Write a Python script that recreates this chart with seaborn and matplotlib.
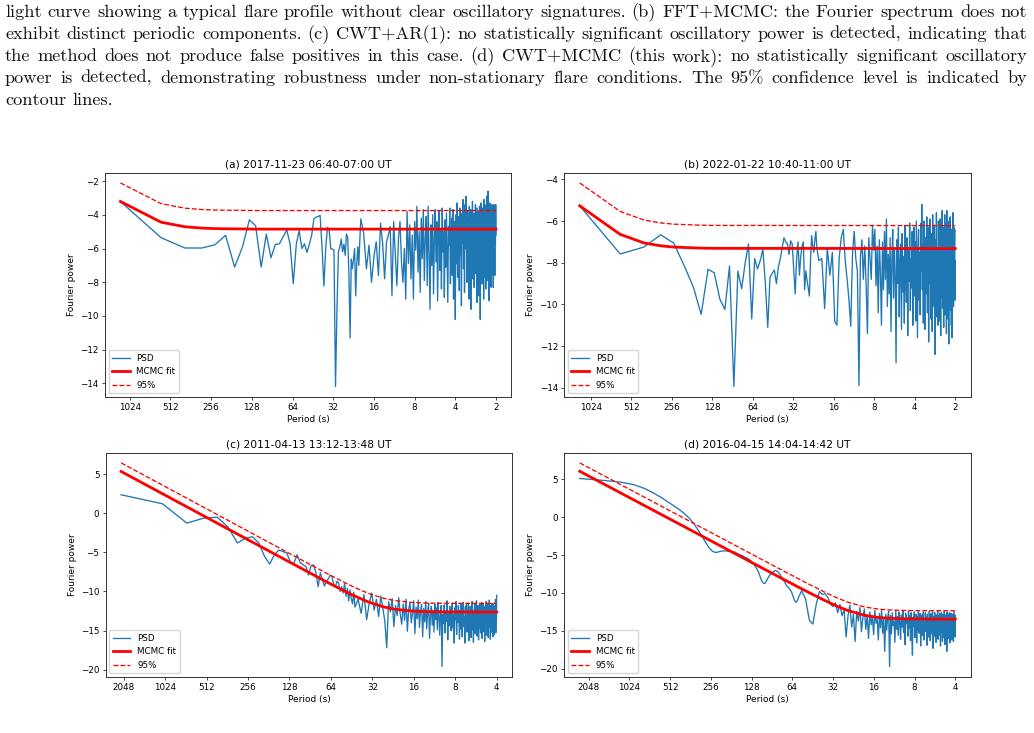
import numpy as np
import matplotlib
matplotlib.use("Agg")
import matplotlib.pyplot as plt
from matplotlib.ticker import NullLocator
import seaborn as sns

# caption text above the figure (page screenshot)
caption_lines = [
    "light curve showing a typical flare profile without clear oscillatory signatures. (b) FFT+MCMC: the Fourier spectrum does not",
    "exhibit distinct periodic components. (c) CWT+AR(1): no statistically significant oscillatory power is detected, indicating that",
    "the method does not produce false positives in this case. (d) CWT+MCMC (this work): no statistically significant oscillatory",
    "power is detected, demonstrating robustness under non-stationary flare conditions. The 95% confidence level is indicated by",
    "contour lines.",
]

titles = ["(a) 2017-11-23 06:40-07:00 UT", "(b) 2022-01-22 10:40-11:00 UT",
          "(c) 2011-04-13 13:12-13:48 UT", "(d) 2016-04-15 14:04-14:42 UT"]
durations = [1200, 1240, 2140, 2385]      # s, length of each light curve
top_harmonic = [600, 620, 535, 596]       # Nyquist harmonic
lo_step = [1, 1, 1, 0.5]                  # harmonic spacing of the low-frequency part
period_ticks_ab = [1024, 512, 256, 128, 64, 32, 16, 8, 4, 2]
period_ticks_cd = [2048, 1024, 512, 256, 128, 64, 32, 16, 8, 4]

# ---- (a) log PSD
psd_a_lo = [-3.21, -5.36, -5.97, -5.97, -5.78, -5.22, -7.10, -5.90, -4.30, -4.65,
            -7.10, -5.15, -6.55, -5.76, -5.72, -5.30, -4.90, -5.74, -8.08, -5.74,
            -4.94, -6.00, -5.72, -6.23, -5.74, -5.20, -4.24, -4.14, -4.10, -4.04,
            -5.90, -8.22, -6.00, -4.74, -4.90, -6.03, -6.03, -6.10, -14.18, -9.50,
            -6.20, -5.90, -5.44, -6.20, -5.74, -6.40, -5.14, -5.34, -7.50, -11.30,
            -6.63, -7.20, -6.63, -6.00, -8.81, -6.90, -5.90, -7.00, -5.50, -4.24]
psd_a_hi = [-5.1, -7.2, -5.8, -8.0, -6.5, -5.6, -7.6, -4.5, -5.7, -7.8,
            -5.6, -5.2, -4.7, -8.8, -4.4, -6.4, -8.2, -5.4, -4.4, -6.8,
            -8.0, -6.0, -9.0, -3.8, -6.9, -4.6, -7.8, -5.2, -9.0, -4.4,
            -6.1, -3.5, -7.4, -5.0, -8.6, -4.2, -6.6, -3.7, -7.9, -5.3,
            -4.1, -8.2, -3.5, -6.3, -9.6, -4.6, -7.0, -4.0, -8.7, -5.5,
            -3.7, -6.8, -4.4, -9.1, -5.1, -3.8, -7.3, -4.9, -8.4, -3.6,
            -6.2, -5.0, -8.9, -4.3, -7.1, -3.9, -6.5, -9.2, -4.7, -5.8,
            -3.6, -8.1, -5.3, -4.2, -7.6, -3.7, -9.0, -5.6, -4.4, -10.2,
            -4.0, -6.9, -3.3, -7.7, -5.2, -4.1, -8.5, -3.6, -6.4, -4.8,
            -9.4, -3.9, -5.7, -3.1, -7.2, -4.5, -8.6, -3.4, -6.0, -2.9,
            -5.5, -8.0, -3.8, -6.7, -4.2, -9.0, -3.5, -7.1, -4.9, -3.7,
            -9.6, -4.4, -6.3, -3.2, -7.8, -5.0, -3.9, -8.3, -4.6, -6.9,
            -3.4, -7.5, -4.8, -3.6, -9.2, -5.4, -3.8, -6.6, -4.1, -8.8,
            -3.5, -5.9, -10.2, -4.3, -3.3, -7.0, -4.7, -8.1, -3.6, -6.2,
            -4.0, -9.0, -3.1, -5.6, -7.7, -3.9, -4.9, -8.4, -3.4, -6.8,
            -2.9, -5.3, -7.9, -4.2, -2.6, -6.5, -3.8, -9.1, -4.4, -3.3,
            -7.2, -5.0, -3.5, -8.3, -4.1, -6.0, -3.4, -7.5, -4.6, -3.7,
            -8.3, -5.2, -3.4, -6.6, -4.0, -7.6, -3.5, -5.8, -3.4, -5.2]

# ---- (b) log PSD
psd_b_lo = [-5.27, -7.58, -7.25, -6.66, -7.06, -8.16, -9.17, -10.48, -8.32, -8.48,
            -9.73, -10.24, -8.16, -13.94, -8.40, -9.25, -8.00, -7.10, -10.70, -7.80,
            -8.30, -7.90, -7.35, -9.00, -11.10, -8.70, -8.50, -8.35, -9.00, -8.20,
            -7.80, -7.30, -6.80, -7.00, -7.10, -7.60, -6.95, -7.10, -8.30, -9.50,
            -7.80, -7.00, -8.60, -7.70, -7.20, -7.00, -9.30, -8.40, -8.85, -9.20,
            -9.60, -7.90, -6.70, -7.20, -7.50, -6.90, -6.50, -7.30, -7.60, -7.90]
psd_b_hi = [-7.8, -10.2, -7.3, -8.6, -7.5, -10.8, -11.0, -7.8, -6.8, -6.4,
            -7.9, -8.8, -9.8, -11.05, -7.6, -6.5, -7.8, -8.4, -13.9, -7.7,
            -6.9, -8.8, -7.2, -9.0, -11.4, -6.8, -7.8, -8.8, -6.2, -7.4,
            -6.4, -9.1, -7.2, -10.4, -6.9, -8.5, -11.0, -7.0, -9.3, -6.5,
            -8.8, -5.9, -10.1, -7.6, -9.5, -6.8, -11.3, -7.9, -6.4, -9.7,
            -7.3, -8.6, -12.8, -6.9, -9.0, -6.3, -10.6, -8.0, -7.1, -11.2,
            -6.6, -9.4, -7.7, -10.9, -6.2, -8.3, -9.9, -6.8, -11.5, -7.4,
            -8.9, -6.1, -10.3, -7.8, -9.2, -6.5, -11.0, -8.1, -6.3, -9.6,
            -7.0, -10.8, -6.0, -8.7, -11.6, -7.2, -6.4, -9.8, -7.5, -10.5,
            -6.1, -8.4, -5.2, -9.3, -7.1, -10.9, -6.0, -8.0, -11.2, -6.8,
            -9.5, -7.3, -5.8, -10.4, -8.2, -6.3, -11.8, -7.6, -9.0, -5.9,
            -8.6, -10.7, -6.6, -7.9, -11.3, -5.7, -9.2, -7.0, -10.1, -6.2,
            -8.8, -12.4, -6.9, -9.6, -5.6, -10.6, -7.4, -8.3, -11.0, -6.0,
            -9.1, -7.2, -10.8, -5.9, -8.5, -11.5, -6.4, -9.7, -7.1, -5.5,
            -10.2, -8.0, -6.3, -11.1, -7.6, -9.3, -5.7, -10.5, -6.9, -8.8,
            -6.1, -11.4, -5.5, -9.0, -7.3, -10.7, -6.5, -8.2, -11.9, -6.0,
            -9.4, -7.0, -5.8, -10.3, -8.5, -6.4, -11.0, -7.7, -11.6, -6.6,
            -9.0, -5.6, -8.1, -10.1, -6.3, -9.4, -7.2, -6.4, -9.8, -7.9]

# ---- (c) log PSD
psd_c_lo = [2.36, 1.21, -1.26, -0.62, -0.50, -1.80, -3.80, -3.20, -3.00, -3.80,
            -5.50, -6.50, -5.30, -4.70, -4.90, -5.10, -6.30, -6.40, -5.30, -6.30,
            -6.60, -6.80, -7.90, -6.70, -6.60, -7.60, -9.40, -7.60, -8.50, -9.30,
            -8.70, -8.40, -7.90, -8.10, -9.10, -9.40, -8.70, -8.90, -10.00, -9.40,
            -10.20, -9.00, -10.60, -9.60, -11.20, -9.80, -10.90, -11.60, -10.10, -12.00]
psd_c_hi = [-11.0, -12.8, -10.4, -13.6, -11.5, -10.2, -12.4, -11.0, -13.2, -10.6, -12.1,
            -13.8, -17.2, -11.3, -12.6, -10.9, -14.5, -11.8, -13.1, -10.8, -12.9,
            -14.2, -11.6, -13.7, -11.0, -15.1, -12.3, -11.4, -14.0, -12.8, -11.2,
            -15.4, -12.0, -13.5, -11.1, -14.6, -12.5, -11.7, -15.8, -12.2, -13.9,
            -11.3, -14.8, -12.7, -11.5, -16.0, -13.0, -11.9, -14.3, -12.4, -15.2,
            -11.6, -13.6, -12.1, -14.9, -11.4, -13.3, -15.6, -12.6, -11.8, -19.6,
            -12.9, -14.1, -11.7, -15.3, -12.5, -13.8, -11.2, -16.2, -12.8, -14.4,
            -11.9, -13.2, -15.0, -12.3, -11.5, -14.7, -13.0, -16.6, -12.1, -13.6,
            -11.3, -15.5, -12.7, -14.0, -11.8, -13.4, -16.1, -12.4, -14.8, -11.6,
            -13.1, -15.8, -12.2, -11.4, -14.5, -13.3, -16.6, -12.0, -14.2, -11.7,
            -15.2, -12.9, -13.7, -11.5, -16.3, -12.6, -14.6, -11.9, -13.5, -15.9,
            -12.3, -11.3, -14.9, -13.0, -16.5, -12.4, -13.8, -11.6, -15.4, -12.8,
            -14.1, -11.2, -15.7, -12.7, -13.6, -11.8, -16.2, -13.1, -12.0, -14.7,
            -11.5, -15.3, -12.5, -13.9, -11.4, -16.0, -12.9, -14.4, -11.7, -15.1,
            -12.2, -13.5, -16.4, -11.9, -14.2, -12.6, -11.3, -15.6, -13.2, -12.0,
            -14.8, -11.6, -15.9, -12.8, -13.7, -11.1, -14.5, -12.3, -16.1, -11.8,
            -13.4, -15.2, -12.1, -11.5, -14.6, -12.9, -15.8, -11.7, -13.6, -12.4,
            -15.5, -11.9, -14.1, -12.7, -11.0, -15.3, -12.2, -13.9, -10.5]

# ---- (d) log PSD (low part sampled every half harmonic)
psd_d_lo = [5.10, 4.85, 4.62, 4.30, 3.80, 3.20, 2.60, 2.00, 1.45, 0.95,
            0.40, -0.20, -0.90, -1.70, -2.50, -3.30, -4.00, -4.45, -4.65, -4.60,
            -4.50, -4.45, -4.45, -4.50, -4.50, -4.55, -4.60, -4.75, -4.90, -5.00,
            -5.10, -5.25, -5.35, -5.45, -5.60, -5.80, -6.00, -6.30, -6.60, -6.90,
            -7.30, -7.80, -8.30, -8.60, -8.75, -8.70, -8.40, -8.10, -7.80, -7.60,
            -7.45, -7.30, -7.20, -7.10, -7.05, -7.10, -7.20, -7.30, -7.50, -7.70,
            -7.90, -8.10, -8.30, -8.50, -8.70, -8.90, -9.10, -9.20, -9.30, -9.50,
            -9.60, -9.80, -10.00, -10.30, -10.60, -10.90, -11.10, -11.20, -11.20, -11.00]
psd_d_hi = [-9.7, -10.8, -13.6, -14.1, -11.5, -9.8, -10.2, -10.1, -10.6, -11.5,
            -11.8, -11.3, -12.6, -11.5, -13.0,
            -12.2, -15.8, -13.0, -11.6, -14.5, -12.8, -16.4, -12.4, -13.7, -11.9,
            -15.1, -13.2, -12.1, -14.8, -12.9, -16.0, -12.5, -14.2, -13.1, -15.5,
            -12.3, -14.0, -13.4, -16.2, -12.7, -14.6, -12.2, -15.3, -13.5, -17.7,
            -12.8, -14.9, -13.2, -12.4, -19.7,
            -13.0, -15.4, -12.6, -14.3, -13.7, -16.5, -12.3, -14.8, -13.1, -15.6,
            -12.5, -13.9, -16.1, -12.9, -14.5, -12.3, -15.2, -13.6, -16.8, -12.7,
            -14.0, -13.3, -15.7, -12.4, -14.6, -13.0, -16.3, -12.6, -15.0, -18.2,
            -13.2, -14.4, -12.5, -15.9, -13.7, -12.8, -16.6, -13.1, -14.9, -12.4,
            -15.3, -13.5, -12.7, -17.0, -14.1, -12.9, -15.6, -13.3, -12.5, -16.2,
            -13.8, -14.7, -12.6, -15.1, -13.2, -16.9, -12.8, -14.3, -13.6, -15.8,
            -12.4, -14.0, -16.3, -13.0, -12.7, -15.4, -13.9, -12.5, -17.3, -14.2,
            -13.1, -15.7, -12.6, -14.6, -13.4, -16.5, -12.9, -15.0, -13.7, -12.3,
            -16.1, -14.1, -13.0, -15.5, -12.7, -14.8, -17.0, -13.3, -12.6, -15.2,
            -13.8, -16.4, -12.8, -14.5, -13.1, -15.9, -12.4, -14.0, -16.8, -13.5,
            -12.9, -15.3, -13.6, -17.7, -12.5, -14.7, -13.2, -16.0, -12.8, -15.1,
            -13.9, -12.6, -16.6, -14.2, -13.0, -15.6, -12.7, -14.4, -16.2, -13.3,
            -12.8, -15.0, -13.7, -16.4, -12.5, -14.9, -13.4, -15.7, -12.9, -15.8]

# ---- MCMC fit and 95% level, given at selected harmonics
fit_a_k = [1, 2, 3, 4, 5, 6, 8, 10, 600]
fit_a = [-3.21, -4.44, -4.71, -4.79, -4.82, -4.83, -4.84, -4.85, -4.85]
conf_a = [-2.11, -3.34, -3.61, -3.69, -3.72, -3.73, -3.74, -3.75, -3.75]

fit_b_k = [1, 2, 3, 4, 5, 6, 8, 10, 620]
fit_b = [-5.27, -6.64, -7.05, -7.19, -7.25, -7.27, -7.30, -7.31, -7.32]
conf_b = [-4.17, -5.54, -5.95, -6.09, -6.15, -6.17, -6.20, -6.21, -6.22]

fit_c_k = [1, 2, 4, 8, 16, 24, 32, 40, 48, 56, 64, 80, 96, 128, 160, 192, 256, 535]
fit_c = [5.34, 2.49, -0.36, -3.21, -6.06, -7.72, -8.89, -9.77, -10.46, -10.99,
         -11.41, -11.96, -12.26, -12.50, -12.58, -12.60, -12.62, -12.63]
conf_c = [6.44, 3.59, 0.74, -2.11, -4.96, -6.62, -7.79, -8.67, -9.36, -9.89,
          -10.31, -10.86, -11.16, -11.40, -11.48, -11.50, -11.52, -11.53]

fit_d_k = [1, 2, 4, 8, 16, 24, 32, 48, 64, 80, 96, 128, 160, 192, 256, 384, 596]
fit_d = [6.06, 3.21, 0.36, -2.49, -5.34, -7.01, -8.19, -9.83, -10.95, -11.76,
         -12.32, -12.95, -13.22, -13.34, -13.41, -13.44, -13.45]
conf_d = [7.16, 4.31, 1.46, -1.39, -4.24, -5.91, -7.09, -8.73, -9.85, -10.66,
          -11.22, -11.85, -12.12, -12.24, -12.31, -12.34, -12.35]

psd_lo = [psd_a_lo, psd_b_lo, psd_c_lo, psd_d_lo]
psd_hi = [psd_a_hi, psd_b_hi, psd_c_hi, psd_d_hi]
fit_k = [fit_a_k, fit_b_k, fit_c_k, fit_d_k]
fits = [fit_a, fit_b, fit_c, fit_d]
confs = [conf_a, conf_b, conf_c, conf_d]


def harmonics(n_lo, step, k_top, n_hi):
    k_lo = 1 + step * np.arange(n_lo)
    k_hi = np.linspace(k_lo[-1], k_top, n_hi + 1)[1:]
    return np.r_[k_lo, k_hi]


W, H = 1034, 733
fig = plt.figure(figsize=(W / 100, H / 100), dpi=100)

# axes boxes in pixels: left, top
boxes = [(105, 172.7), (564.3, 172.7), (105.7, 452.7), (564.3, 452.7)]
ax_w, ax_h = 406.4, 224

for i in range(4):
    left, top = boxes[i]
    ax = fig.add_axes([left / W, (H - top - ax_h) / H, ax_w / W, ax_h / H])
    T = durations[i]
    k = harmonics(len(psd_lo[i]), lo_step[i], top_harmonic[i], len(psd_hi[i]))
    freq = k / T
    psd = np.r_[psd_lo[i], psd_hi[i]]
    fk = np.array(fit_k[i]) / T

    sns.lineplot(x=freq, y=psd, ax=ax, color="#1f77b4", lw=0.95,
                 label="PSD", estimator=None)
    sns.lineplot(x=fk, y=fits[i], ax=ax, color="red", lw=2.0,
                 label="MCMC fit", estimator=None)
    sns.lineplot(x=fk, y=confs[i], ax=ax, color="red", lw=0.95, ls="--",
                 label="95%", estimator=None)

    ax.set_xscale("log")
    ax.margins(x=0.041, y=0.05)
    ticks = period_ticks_ab if i < 2 else period_ticks_cd
    ax.set_xticks([1 / p for p in ticks])
    ax.set_xticklabels([str(p) for p in ticks])
    ax.xaxis.set_minor_locator(NullLocator())
    ax.tick_params(labelsize=6.3, length=2.3, width=0.5, pad=2.2)
    for s in ax.spines.values():
        s.set_linewidth(0.7)
        s.set_edgecolor("#333333")
    ax.set_xlabel("Period (s)", fontsize=6.5, labelpad=2)
    ax.set_ylabel("Fourier power", fontsize=6.5, labelpad=3)
    ax.set_title(titles[i], fontsize=7.7, pad=4)
    ax.legend(loc="lower left", fontsize=6.3, handlelength=2.0,
              borderaxespad=0.4, framealpha=0.8)

# justified caption text in a Computer Modern face
renderer = fig.canvas.get_renderer()
baselines = [16.7, 38.8, 60.9, 83.0, 105.1]
x_left, x_right = 5, 1027

# pick the size at which the fullest line just fills the column
sizes = []
for line in caption_lines[:-1]:
    probe = fig.text(0, 0, line, fontsize=10, family="cmr10")
    sizes.append(10 * (x_right - x_left) / probe.get_window_extent(renderer).width)
    probe.remove()
cap_size = min(sizes)

for n, line in enumerate(caption_lines):
    words = line.split(" ")
    y = 1 - baselines[n] / H
    texts = [fig.text(0, y, w, fontsize=cap_size, family="cmr10", va="baseline",
                      color="#111111") for w in words]
    widths = [t.get_window_extent(renderer).width for t in texts]
    if n < len(caption_lines) - 1:
        gap = (x_right - x_left - sum(widths)) / (len(words) - 1)
    else:
        gap = 0.333 * cap_size * 100 / 72
    x = x_left
    for t, w in zip(texts, widths):
        t.set_x(x / W)
        x += w + gap

fig.savefig("out.png", dpi=100)
